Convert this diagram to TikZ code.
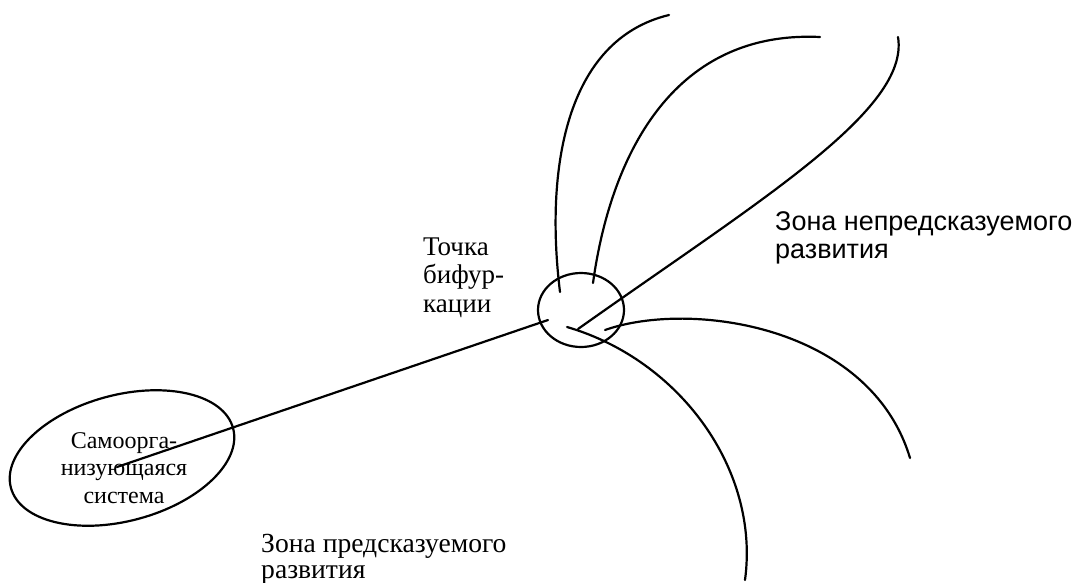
\documentclass[tikz,border=0pt]{standalone}
\usepackage{fontspec}
\setmainfont{Liberation Serif}
\newfontfamily\arialfam{Liberation Sans}
\usetikzlibrary{shapes.geometric}
\begin{document}
\begin{tikzpicture}[x=1pt,y=-1pt,
  stroke/.style={line width=2.2pt, line cap=round},
  oval/.style={draw, ellipse, line width=2.2pt, inner sep=0pt},
  lbl/.style={inner sep=0pt}]
\useasboundingbox (0,0) rectangle (1074,582);
% shapes
\node[oval, minimum width=230pt, minimum height=126pt, rotate=15] (sys) at (122,458) {};
\node[oval, minimum width=86pt, minimum height=74pt] (bif) at (581,310) {};
% texts
\node[lbl, anchor=base, font=\fontsize{24}{27.5}\selectfont] (systext) at (124,448)
  {\begin{tabular}[t]{@{}c@{}}Самоорга-\\низующаяся\\система\end{tabular}};
\node[lbl, anchor=base west, font=\fontsize{27}{28.5}\selectfont] (tochka) at (423,255)
  {\begin{tabular}[t]{@{}l@{}}Точка\\бифур-\\кации\end{tabular}};
\node[lbl, anchor=base west, font=\arialfam\fontsize{27}{28}\selectfont] (unpred) at (775,230)
  {\begin{tabular}[t]{@{}l@{}}Зона непредсказуемого\\развития\end{tabular}};
\node[lbl, anchor=base west, font=\fontsize{27.6}{26}\selectfont] (pred) at (261,552)
  {\begin{tabular}[t]{@{}l@{}}Зона предсказуемого\\развития\end{tabular}};
% connector from system to bifurcation point
\coordinate (s0) at (117,467);
\coordinate (b0) at (548,320);
\draw[stroke] (s0) -- (b0);
% branches
\coordinate (c1s) at (560,292); \coordinate (c1e) at (669,15);
\coordinate (c2s) at (593,283); \coordinate (c2e) at (820,37);
\coordinate (c3s) at (578,329); \coordinate (c3e) at (898,37);
\coordinate (c4s) at (567,327); \coordinate (c4e) at (745,580);
\coordinate (c5s) at (605,330); \coordinate (c5e) at (910,458);
\draw[stroke] (c1s) .. controls (545,170) and (565,40) .. (c1e);
\draw[stroke] (c2s) .. controls (610,160) and (670,30) .. (c2e);
\draw[stroke] (c3s) .. controls (760,200) and (910,110) .. (c3e);
\draw[stroke] (c4s) .. controls (680,360) and (760,470) .. (c4e);
\draw[stroke] (c5s) .. controls (690,300) and (870,325) .. (c5e);
\end{tikzpicture}
\end{document}
